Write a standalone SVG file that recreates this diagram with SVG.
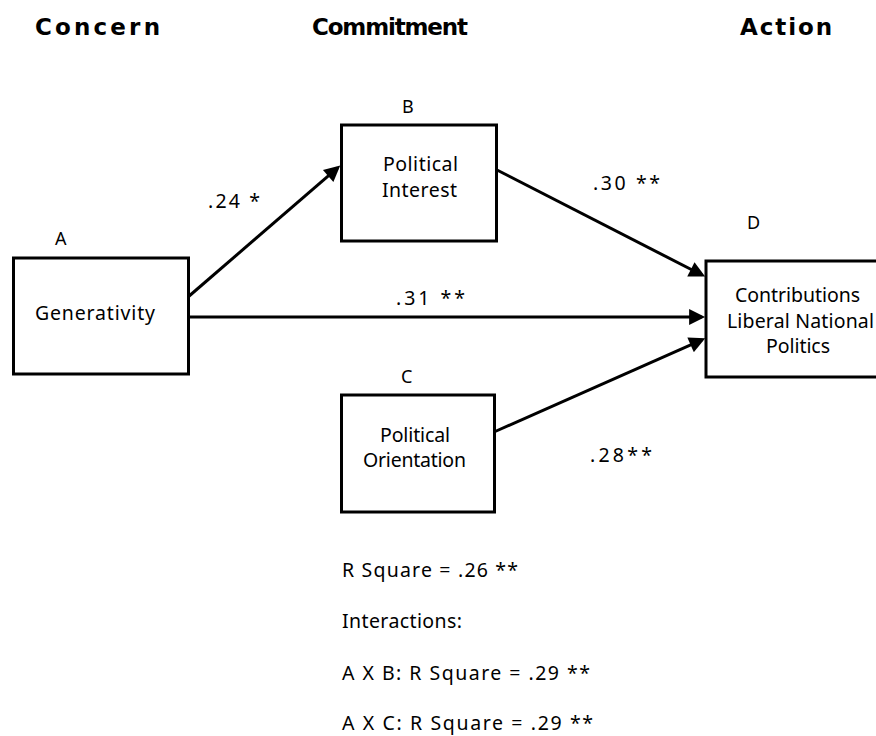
<svg xmlns="http://www.w3.org/2000/svg" width="876" height="736" viewBox="0 0 876 736">
<style>
.hdr{font-family:"DejaVu Sans","Liberation Sans",sans-serif;font-weight:bold;font-size:23px;fill:#000}
.t{font-family:"Noto Sans","DejaVu Sans","Liberation Sans",sans-serif;font-size:19.5px;fill:#000}
.lbl{font-family:"Noto Sans","DejaVu Sans","Liberation Sans",sans-serif;font-size:18px;fill:#000}
.box{fill:#fff;stroke:#000;stroke-width:3}
.edge{fill:none;stroke:#000;stroke-width:3}
</style>
<defs>
<marker id="arr" viewBox="0 0 10 10" refX="7.8" refY="5" markerUnits="userSpaceOnUse" markerWidth="20" markerHeight="16" orient="auto">
<path d="M0,0 L10,5 L0,10 z" fill="#000"/>
</marker>
</defs>
<rect width="876" height="736" fill="#fff"/>
<g id="headers">
<text class="hdr" x="35" y="35" textLength="125" lengthAdjust="spacing">Concern</text>
<text class="hdr" x="312" y="35" textLength="156" lengthAdjust="spacing">Commitment</text>
<text class="hdr" x="740" y="35" textLength="92" lengthAdjust="spacing">Action</text>
</g>
<g id="connectors">
<line class="edge" x1="188" y1="297" x2="337.6" y2="167.9" marker-end="url(#arr)"/>
<line class="edge" x1="188" y1="317" x2="701.6" y2="317" marker-end="url(#arr)"/>
<line class="edge" x1="497" y1="170" x2="702" y2="275" marker-end="url(#arr)"/>
<line class="edge" x1="494" y1="432" x2="702" y2="339.8" marker-end="url(#arr)"/>
<text class="t" x="208" y="208" textLength="52" lengthAdjust="spacing">.24 *</text>
<text class="t" x="593" y="190" textLength="67" lengthAdjust="spacing">.30 **</text>
<text class="t" x="396" y="305" textLength="69" lengthAdjust="spacing">.31 **</text>
<text class="t" x="590" y="462" textLength="62" lengthAdjust="spacing">.28**</text>
</g>
<g id="nodeA">
<rect class="box" x="13.5" y="258" width="175" height="116"/>
<text class="lbl" x="55" y="245">A</text>
<text class="t" x="35" y="320" textLength="120" lengthAdjust="spacing">Generativity</text>
</g>
<g id="nodeB">
<rect class="box" x="341.5" y="125" width="155" height="116"/>
<text class="lbl" x="402" y="113">B</text>
<text class="t" x="383" y="171" textLength="75" lengthAdjust="spacing">Political</text>
<text class="t" x="382" y="197" textLength="75" lengthAdjust="spacing">Interest</text>
</g>
<g id="nodeC">
<rect class="box" x="341.5" y="395" width="153" height="117"/>
<text class="lbl" x="401" y="383">C</text>
<text class="t" x="380" y="442" textLength="70" lengthAdjust="spacing">Political</text>
<text class="t" x="363" y="467" textLength="103" lengthAdjust="spacing">Orientation</text>
</g>
<g id="nodeD">
<rect class="box" x="706" y="261" width="200" height="116"/>
<text class="lbl" x="747" y="229">D</text>
<text class="t" x="735" y="302" textLength="125" lengthAdjust="spacing">Contributions</text>
<text class="t" x="727" y="328" textLength="147" lengthAdjust="spacing">Liberal National</text>
<text class="t" x="766" y="353" textLength="64" lengthAdjust="spacing">Politics</text>
</g>
<g id="notes">
<text class="t" x="342" y="577" textLength="176" lengthAdjust="spacing">R Square = .26 **</text>
<text class="t" x="342" y="628" textLength="120" lengthAdjust="spacing">Interactions:</text>
<text class="t" x="342" y="680" textLength="248" lengthAdjust="spacing">A X B:  R Square = .29 **</text>
<text class="t" x="342" y="730" textLength="251" lengthAdjust="spacing">A X C:  R Square = .29 **</text>
</g>
</svg>
